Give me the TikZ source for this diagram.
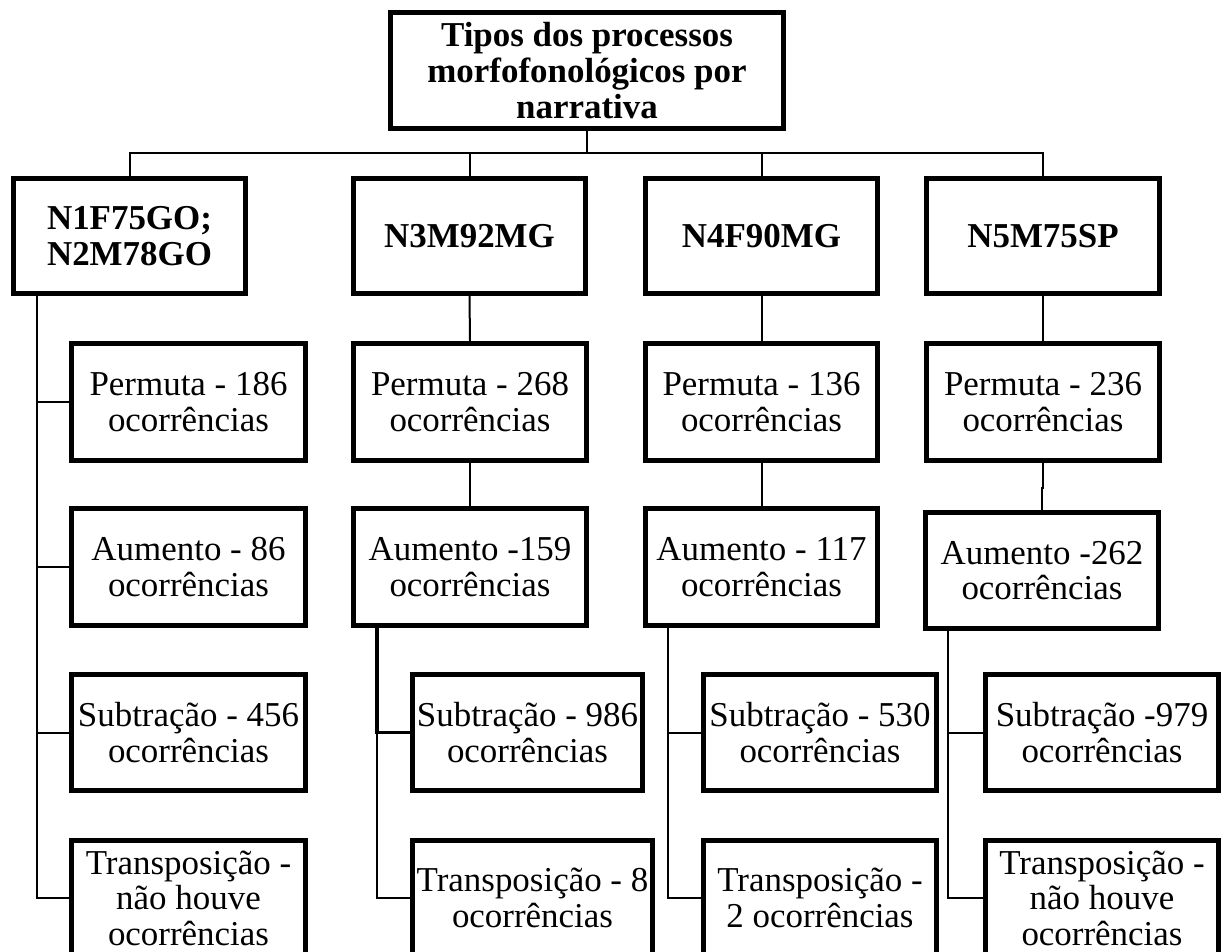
\documentclass[tikz,border=0pt]{standalone}
\usepackage{fontspec}
\setmainfont{Liberation Serif}
\tikzset{
  box/.style={draw=black, line width=4.1pt, fill=white, inner sep=0pt, align=center,
    font=\fontsize{26.2}{26.6}\selectfont},
  bbox/.style={box, font=\bfseries\fontsize{26.2}{27.2}\selectfont},
  conn/.style={draw=black, line width=1.5pt},
  thickconn/.style={draw=black, line width=2.6pt}
}
\newcommand\mybox[7]{%
  \node[#7, minimum width={(#4-#2-5.5)*0.75pt}, minimum height={(#5-#3-5.5)*0.75pt}]
    (#1) at ({(#2+#4)/2},{(#3+#5)/2}) {#6};}
\begin{document}
\begin{tikzpicture}[x=0.75pt, y=-0.75pt]
\useasboundingbox (0,0) rectangle (1222,952);
\clip (0,0) rectangle (1222,952);
\fill[white] (0,0) rectangle (1222,952);

% coordinates for buses and spines
\coordinate (bus) at (0,153);
\coordinate (s1) at (37,0);
\coordinate (s2) at (377,0);
\coordinate (s3) at (668,0);
\coordinate (s4) at (948,0);
\coordinate (j4) at (0,488);

% top
\mybox{T}{388}{10}{786}{131}{Tipos dos processos\\morfofonológicos por\\narrativa}{bbox}

% level 1
\mybox{A1}{11}{176}{248}{296}{N1F75GO;\\N2M78GO}{bbox}
\mybox{A2}{351}{176}{588}{296}{N3M92MG}{bbox}
\mybox{A3}{643}{176}{880}{296}{N4F90MG}{bbox}
\mybox{A4}{924}{176}{1162}{296}{N5M75SP}{bbox}

% Permuta
\mybox{P1}{69}{341}{308}{463}{Permuta - 186\\ocorrências}{box}
\mybox{P2}{351}{341}{589}{463}{Permuta - 268\\ocorrências}{box}
\mybox{P3}{643}{341}{880}{463}{Permuta - 136\\ocorrências}{box}
\mybox{P4}{924}{341}{1162}{463}{Permuta - 236\\ocorrências}{box}

% Aumento
\mybox{U1}{69}{506}{308}{628}{Aumento - 86\\ocorrências}{box}
\mybox{U2}{351}{506}{589}{628}{Aumento -159\\ocorrências}{box}
\mybox{U3}{643}{506}{880}{628}{Aumento - 117\\ocorrências}{box}
\mybox{U4}{923}{510}{1161}{631}{Aumento -262\\ocorrências}{box}

% Subtracao
\mybox{S1}{69}{672}{308}{793}{Subtração - 456\\ocorrências}{box}
\mybox{S2}{410}{672}{645}{793}{Subtração - 986\\ocorrências}{box}
\mybox{S3}{701}{672}{939}{793}{Subtração - 530\\ocorrências}{box}
\mybox{S4}{983}{672}{1221}{793}{Subtração -979\\ocorrências}{box}

% Transposicao
\mybox{R1}{69}{838}{308}{958}{Transposição -\\não houve\\ocorrências}{box}
\mybox{R2}{410}{838}{655}{958}{Transposição - 8\\ocorrências}{box}
\mybox{R3}{701}{838}{939}{958}{Transposição -\\2 ocorrências}{box}
\mybox{R4}{983}{838}{1221}{958}{Transposição -\\não houve\\ocorrências}{box}

% top connectors
\draw[conn] (T.south) -- (T.south |- bus);
\draw[conn] (A1.north) -- (A1.north |- bus) -- (A4.north |- bus) -- (A4.north);
\draw[conn] (A2.north) -- (A2.north |- bus);
\draw[conn] (A3.north) -- (A3.north |- bus);

% column 1
\draw[conn] (A1.south -| s1) |- (P1.west);
\draw[conn] (A1.south -| s1) |- (U1.west);
\draw[conn] (A1.south -| s1) |- (S1.west);
\draw[conn] (A1.south -| s1) |- (R1.west);

% column 2
\draw[conn] (A2.south) -- (P2.north);
\draw[conn] (P2.south) -- (U2.north);
\draw[thickconn] (U2.south -| s2) |- (S2.west);
\draw[conn] (U2.south -| s2) |- (R2.west);

% column 3
\draw[conn] (A3.south) -- (P3.north);
\draw[conn] (P3.south) -- (U3.north);
\draw[conn] (U3.south -| s3) |- (S3.west);
\draw[conn] (U3.south -| s3) |- (R3.west);

% column 4
\draw[conn] (A4.south) -- (P4.north);
\draw[conn] (P4.south) -- (P4.south |- j4) -- (U4.north |- j4) -- (U4.north);
\draw[conn] (U4.south -| s4) |- (S4.west);
\draw[conn] (U4.south -| s4) |- (R4.west);
\end{tikzpicture}
\end{document}
